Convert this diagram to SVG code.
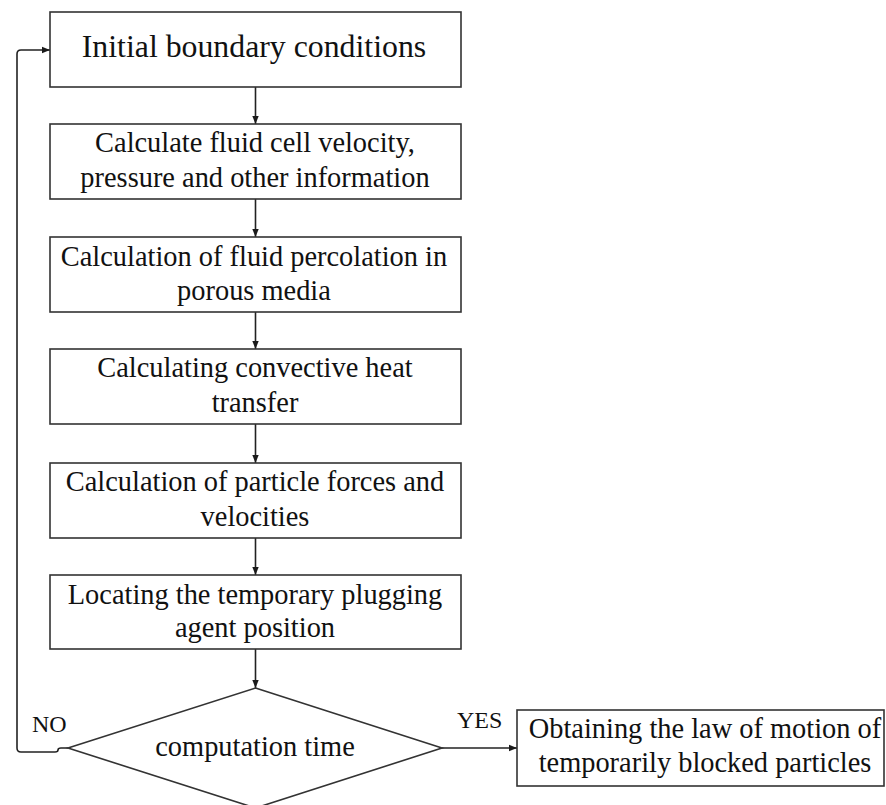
<svg xmlns="http://www.w3.org/2000/svg" width="886" height="805" viewBox="0 0 886 805">
<defs>
<marker id="ah" markerWidth="8" markerHeight="8" refX="8" refY="4" orient="auto" markerUnits="userSpaceOnUse">
<path d="M0,0.8 L8,4 L0,7.2 Z" fill="#1a1a1a"/>
</marker>
<style>
.box{fill:#fff;stroke:#333;stroke-width:1.6}
.t{font-size:28.4px;fill:#111;text-anchor:middle}
.big{font-size:31.8px}
.lbl{font-size:24px;fill:#111}
.c{fill:none;stroke:#222;stroke-width:1.6}
</style>
</defs>
<rect width="886" height="805" fill="#fff"/>
<g id="connectors">
<line class="c" x1="255.5" y1="87" x2="255.5" y2="124" marker-end="url(#ah)"/>
<line class="c" x1="255.5" y1="199" x2="255.5" y2="237" marker-end="url(#ah)"/>
<line class="c" x1="255.5" y1="312" x2="255.5" y2="349" marker-end="url(#ah)"/>
<line class="c" x1="255.5" y1="424" x2="255.5" y2="463" marker-end="url(#ah)"/>
<line class="c" x1="255.5" y1="538" x2="255.5" y2="575" marker-end="url(#ah)"/>
<line class="c" x1="255.5" y1="649" x2="255.5" y2="688" marker-end="url(#ah)"/>
<line class="c" x1="442" y1="748" x2="517" y2="748" marker-end="url(#ah)"/>
<path class="c" d="M68,748 L61,748 Q58,748 58,750 Q58,752 55,752 L21,752 Q17,752 17,748 L17,54 Q17,50 21,50 L50,50" marker-end="url(#ah)"/>
</g>
<g font-family="'Liberation Serif', 'Times New Roman', serif">
<g id="n1">
<rect class="box" x="50" y="12" width="411" height="75"/>
<text class="t big" x="254" y="57">Initial boundary conditions</text>
</g>
<g id="n2">
<rect class="box" x="50" y="124" width="411" height="75"/>
<text class="t" x="255" y="152">Calculate fluid cell velocity,</text>
<text class="t" x="255" y="187">pressure and other information</text>
</g>
<g id="n3">
<rect class="box" x="50" y="237" width="411" height="75"/>
<text class="t" x="254" y="266">Calculation of fluid percolation in</text>
<text class="t" x="254" y="300">porous media</text>
</g>
<g id="n4">
<rect class="box" x="50" y="349" width="411" height="75"/>
<text class="t" x="255" y="377">Calculating convective heat</text>
<text class="t" x="255" y="412">transfer</text>
</g>
<g id="n5">
<rect class="box" x="50" y="463" width="411" height="75"/>
<text class="t" x="255" y="491">Calculation of particle forces and</text>
<text class="t" x="255" y="526">velocities</text>
</g>
<g id="n6">
<rect class="box" x="50" y="575" width="411" height="74"/>
<text class="t" x="255" y="604">Locating the temporary plugging</text>
<text class="t" x="255" y="637">agent position</text>
</g>
<g id="n7">
<polygon class="box" points="255.5,688 442,748 255.5,808 68,748"/>
<text class="t" x="255" y="756">computation time</text>
</g>
<g id="n8">
<rect class="box" x="517" y="710" width="367" height="76"/>
<text class="t" x="705" y="738">Obtaining the law of motion of</text>
<text class="t" x="705" y="772">temporarily blocked particles</text>
</g>
<g id="labels">
<text class="lbl" x="32" y="732">NO</text>
<text class="lbl" x="457" y="728">YES</text>
</g>
</g>
</svg>
